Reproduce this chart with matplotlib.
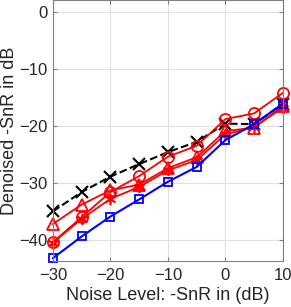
import matplotlib.pyplot as plt

plt.rcParams['font.family'] = ['Liberation Sans', 'DejaVu Sans']

noise = [-30, -25, -20, -15, -10, -5, 0, 5, 10]

black_x = [-35.0, -31.6, -28.9, -26.7, -24.6, -22.8, -19.6, -19.7, -16.1]
red_circle = [-40.4, -36.0, -31.6, -28.8, -25.4, -23.5, -18.8, -17.8, -14.2]
red_triangle = [-37.2, -33.8, -31.3, -30.3, -27.4, -25.5, -20.9, -20.3, -16.5]
red_star = [-40.5, -36.3, -32.8, -30.7, -27.8, -26.0, -21.5, -20.2, -16.8]
blue_square = [-43.2, -39.4, -35.9, -32.9, -29.8, -27.2, -22.5, -19.7, -16.1]

fig = plt.figure(figsize=(2.91, 3.07), dpi=100)
ax = fig.add_axes([0.182, 0.150, 0.790, 0.85])

ax.plot(noise, black_x, '--x', color='k', lw=1.5, ms=8, mew=1.5, clip_on=False)
ax.plot(noise, red_circle, '-o', color='r', lw=1.3, ms=8, mfc='none', mew=1.3, clip_on=False)
ax.plot(noise, red_triangle, '-^', color='r', lw=1.3, ms=8, mfc='none', mew=1.3, clip_on=False)
# asterisk marker like MATLAB '*'
ax.plot(noise, red_star, '-', marker=(6, 2, 0), color='r', lw=1.3, ms=8, mew=1.2, clip_on=False)
ax.plot(noise, blue_square, '-s', color='b', lw=1.5, ms=6, mfc='none', mew=1.3, clip_on=False)

ax.set_xlim(-30, 10)
ax.set_ylim(-43.7, 2.1)
ax.set_xticks([-30, -20, -10, 0, 10])
ax.set_yticks([-40, -30, -20, -10, 0])
ax.grid(True, color='#e0e0e0', lw=0.8)
ax.set_axisbelow(True)
for s in ax.spines.values():
    s.set_color('#808080')
ax.tick_params(direction='in', length=3, colors='#262626', labelsize=12,
               top=True, right=True)
ax.tick_params(axis='x', pad=5)
ax.tick_params(axis='y', pad=4)
ax.tick_params(axis='both', color='#808080')

ax.set_xlabel('Noise Level: -SnR in (dB)', fontsize=13, color='#262626', labelpad=3)
ax.set_ylabel('Denoised -SnR in dB', fontsize=13, color='#262626', labelpad=1)

fig.savefig('out.png', dpi=100)
